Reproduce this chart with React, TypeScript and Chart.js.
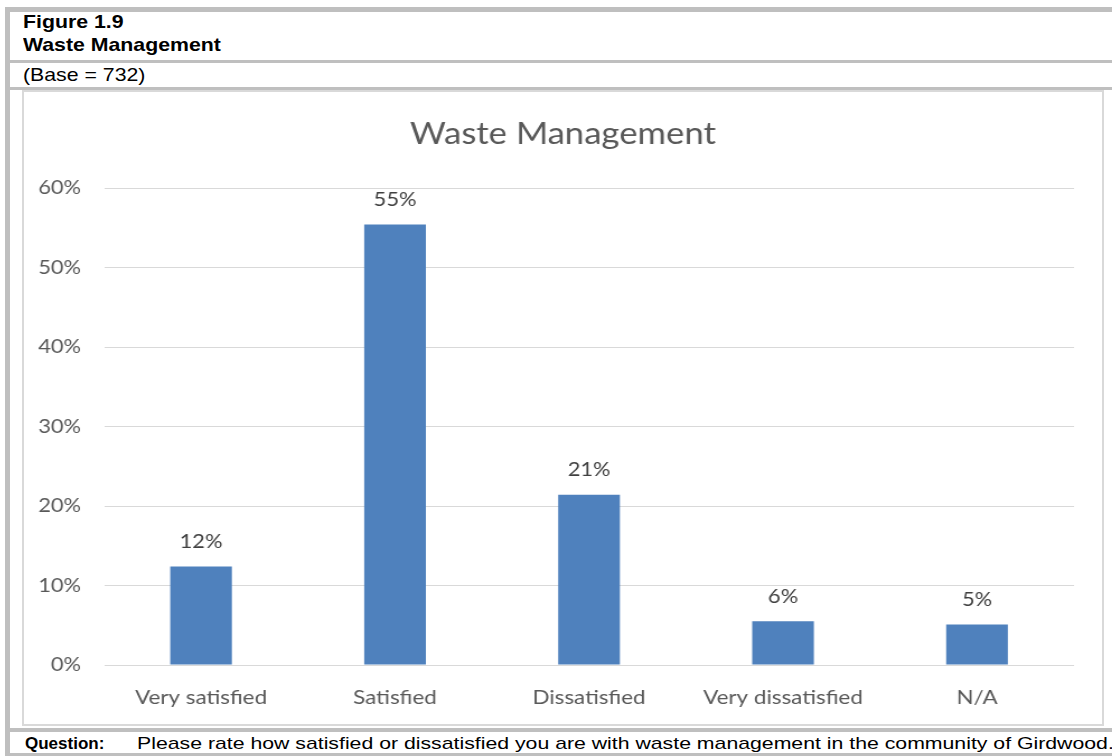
import React, { useEffect, useRef } from "react";
import { Chart, registerables } from "chart.js";

Chart.register(...registerables);

const categories = ["Very satisfied", "Satisfied", "Dissatisfied", "Very dissatisfied", "N/A"];
const values = [12.4, 55.4, 21.4, 5.5, 5.1];
const yMin = 0;
const yMax = 60;
const yStep = 10;
const chartTitle = "Waste Management";
const figureLabel = "Figure 1.9";
const figureTitle = "Waste Management";
const baseText = "(Base = 732)";
const questionLabel = "Question:";
const questionText = "Please rate how satisfied or dissatisfied you are with waste management in the community of Girdwood.";

const FONT = "Lato, 'Open Sans', sans-serif";
const BORDER = "#bfbfbf";
const FRAME = "#d9d9d9";

// the chart is drawn narrower and stretched horizontally, like the reference
const CANVAS_W = 963;
const CANVAS_H = 632;
const STRETCH = 1078 / CANVAS_W;

const valueLabels = {
  id: "valueLabels",
  afterDatasetsDraw(chart: any) {
    const ctx = chart.ctx;
    const meta = chart.getDatasetMeta(0);
    ctx.save();
    ctx.font = `19.5px ${FONT}`;
    ctx.fillStyle = "#404040";
    ctx.textAlign = "center";
    ctx.textBaseline = "middle";
    meta.data.forEach((bar: any, i: number) => {
      const v = chart.data.datasets[0].data[i] as number;
      ctx.fillText(`${Math.round(v)}%`, bar.x, bar.y - 25);
    });
    ctx.restore();
  },
};

function BarChart() {
  const ref = useRef<HTMLCanvasElement>(null);
  useEffect(() => {
    if (!ref.current) return;
    const chart = new Chart(ref.current, {
      type: "bar",
      data: {
        labels: categories,
        datasets: [
          {
            data: values,
            backgroundColor: "#4f81bd",
            borderWidth: 0,
            barPercentage: 0.318,
            categoryPercentage: 1,
          },
        ],
      },
      options: {
        responsive: false,
        animation: false,
        devicePixelRatio: 1,
        layout: { padding: { left: 0, right: 0, top: 0, bottom: 0 } },
        plugins: {
          legend: { display: false },
          tooltip: { enabled: false },
          title: {
            display: true,
            text: chartTitle,
            color: "#595959",
            font: { family: FONT, size: 31, weight: "normal" },
            padding: { top: 23.4, bottom: 35.4 },
          },
        },
        scales: {
          x: {
            grid: { display: false, drawTicks: false },
            border: { display: false },
            ticks: {
              color: "#595959",
              font: { family: FONT, size: 20 },
              padding: 21,
              maxRotation: 0,
              autoSkip: false,
            },
            afterFit(scale: any) {
              scale.height = 59;
            },
          },
          y: {
            min: yMin,
            max: yMax,
            grid: { color: FRAME, lineWidth: 1, drawTicks: false },
            border: { display: false },
            ticks: {
              stepSize: yStep,
              color: "#595959",
              font: { family: FONT, size: 19.5 },
              padding: 20.5,
              callback: (v: any) => `${v}%`,
            },
            afterFit(scale: any) {
              scale.width = 71.5;
            },
          },
          yRight: {
            position: "right",
            min: yMin,
            max: yMax,
            grid: { display: false, drawTicks: false },
            border: { display: false },
            ticks: { display: false },
            afterFit(scale: any) {
              scale.width = 25;
            },
          },
        },
      },
      plugins: [valueLabels],
    });
    return () => chart.destroy();
  }, []);
  return (
    <div style={{ transform: `scaleX(${STRETCH})`, transformOrigin: "0 0" }}>
      <canvas
        ref={ref}
        width={CANVAS_W}
        height={CANVAS_H}
        style={{ display: "block", width: CANVAS_W, height: CANVAS_H }}
      />
    </div>
  );
}

const abs = (s: React.CSSProperties): React.CSSProperties => ({ position: "absolute", ...s });

export default function App() {
  const hdr: React.CSSProperties = {
    fontFamily: "'Liberation Sans', Arial, sans-serif",
    fontSize: 18.5,
    lineHeight: "18.5px",
    color: "#000",
    whiteSpace: "nowrap",
    transform: "scaleX(1.15)",
    transformOrigin: "0 0",
  };
  const q: React.CSSProperties = {
    fontFamily: "'Liberation Sans', Arial, sans-serif",
    fontSize: 17,
    lineHeight: "17px",
    whiteSpace: "nowrap",
    color: "#000",
    top: 735,
  };
  return (
    <div style={abs({ left: 0, top: 0, width: 1112, height: 756, background: "#fff", overflow: "hidden" })}>
      {/* outer table borders */}
      <div style={abs({ left: 5, top: 7, width: 1107, height: 5, background: BORDER })} />
      <div style={abs({ left: 5, top: 7, width: 5, height: 749, background: BORDER })} />
      <div style={abs({ left: 5, top: 60, width: 1107, height: 3, background: BORDER })} />
      <div style={abs({ left: 5, top: 87, width: 1107, height: 3, background: BORDER })} />
      <div style={abs({ left: 5, top: 728, width: 1107, height: 3.5, background: BORDER })} />
      <div style={abs({ left: 5, top: 753, width: 1107, height: 3, background: BORDER })} />
      {/* inner chart frame */}
      <div style={abs({ left: 22, top: 90, width: 1082, height: 636, boxSizing: "border-box", border: `2px solid ${FRAME}` })} />
      {/* header texts */}
      <div style={abs({ ...hdr, left: 23, top: 13, fontWeight: "bold" })}>{figureLabel}</div>
      <div style={abs({ ...hdr, left: 23, top: 36.3, fontWeight: "bold" })}>{figureTitle}</div>
      <div style={abs({ ...hdr, left: 23, top: 66.3 })}>{baseText}</div>
      {/* chart */}
      <div style={abs({ left: 24, top: 92 })}>
        <BarChart />
      </div>
      {/* question */}
      <div style={abs({ ...q, left: 25, fontWeight: "bold" })}>{questionLabel}</div>
      <div style={abs({ ...q, left: 137, transform: "scaleX(1.25)", transformOrigin: "0 0" })}>{questionText}</div>
    </div>
  );
}
